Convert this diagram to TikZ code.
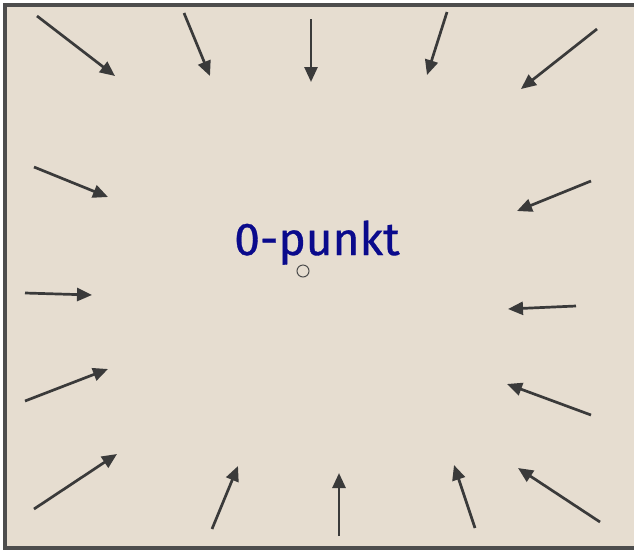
\documentclass[tikz,border=0pt]{standalone}
\usepackage{fontspec}
\setmainfont{Fira Sans}
\newfontfamily\labelfont{Fira Sans}[FakeBold=0.7]
\usetikzlibrary{arrows.meta}
\definecolor{PaperBeige}{HTML}{E6DDD0}
\definecolor{FrameGray}{HTML}{4D4D4D}
\definecolor{ArrowGray}{HTML}{3A3A3A}
\definecolor{LabelNavy}{HTML}{0A0A8C}
\tikzset{
  inarrow/.style={-{Triangle[length=15pt,width=13pt]}, line width=2.7pt, draw=ArrowGray},
  frame/.style={draw=FrameGray, fill=PaperBeige, line width=4pt},
  label/.style={text=LabelNavy, font=\labelfont\fontsize{46}{46}\selectfont, inner sep=0pt},
  origin/.style={circle, draw=FrameGray, line width=1pt, minimum size=12pt, inner sep=0pt}
}
\begin{document}
\begin{tikzpicture}[x=1pt, y=-1pt]
    \useasboundingbox (0,0) rectangle (634,550);
    \clip (0,0) rectangle (634,550);
    \draw[frame] (5,5) rectangle (640,548);

    \node[label, anchor=base] (title) at (317,255) {0-punkt};
    \node[origin] (zero) at (303,271) {};

    % top row
    \coordinate (s1) at (37,16);   \coordinate (t1) at (115,76);
    \coordinate (s2) at (184,13);  \coordinate (t2) at (210,76);
    \coordinate (s3) at (311,19);  \coordinate (t3) at (311,82);
    \coordinate (s4) at (447,12);  \coordinate (t4) at (427,75);
    \coordinate (s5) at (597,29);  \coordinate (t5) at (521,89);
    % left side
    \coordinate (s6) at (34,167);  \coordinate (t6) at (108,197);
    \coordinate (s7) at (25,293);  \coordinate (t7) at (92,295);
    \coordinate (s8) at (25,401);  \coordinate (t8) at (108,369);
    % right side
    \coordinate (s9) at (591,181);  \coordinate (t9) at (517,211);
    \coordinate (s10) at (576,306); \coordinate (t10) at (508,309);
    \coordinate (s11) at (591,415); \coordinate (t11) at (507,384);
    % bottom row
    \coordinate (s12) at (34,509);  \coordinate (t12) at (117,454);
    \coordinate (s13) at (212,529); \coordinate (t13) at (238,466);
    \coordinate (s14) at (339,536); \coordinate (t14) at (339,473);
    \coordinate (s15) at (475,528); \coordinate (t15) at (454,465);
    \coordinate (s16) at (600,522); \coordinate (t16) at (518,468);

    \draw[inarrow] (s1) -- (t1);
    \draw[inarrow] (s2) -- (t2);
    \draw[inarrow] (s3) -- (t3);
    \draw[inarrow] (s4) -- (t4);
    \draw[inarrow] (s5) -- (t5);
    \draw[inarrow] (s6) -- (t6);
    \draw[inarrow] (s7) -- (t7);
    \draw[inarrow] (s8) -- (t8);
    \draw[inarrow] (s9) -- (t9);
    \draw[inarrow] (s10) -- (t10);
    \draw[inarrow] (s11) -- (t11);
    \draw[inarrow] (s12) -- (t12);
    \draw[inarrow] (s13) -- (t13);
    \draw[inarrow] (s14) -- (t14);
    \draw[inarrow] (s15) -- (t15);
    \draw[inarrow] (s16) -- (t16);
  \end{tikzpicture}
\end{document}
